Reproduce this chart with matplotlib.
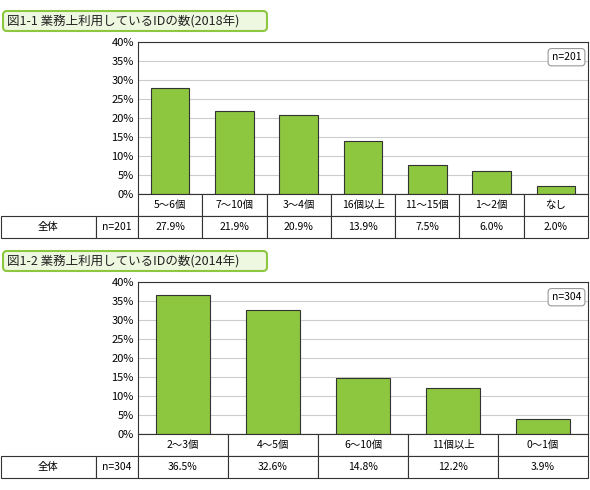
import matplotlib.pyplot as plt
from matplotlib.patches import FancyBboxPatch, Rectangle

plt.rcParams['font.family'] = ['Noto Sans CJK JP', 'DejaVu Sans']

titles = ['図1-1 業務上利用しているIDの数(2018年)', '図1-2 業務上利用しているIDの数(2014年)']
n_labels = ['n=201', 'n=304']
cats_2018 = ['5～6個', '7～10個', '3～4個', '16個以上', '11～15個', '1～2個', 'なし']
vals_2018 = [27.9, 21.9, 20.9, 13.9, 7.5, 6.0, 2.0]
cats_2014 = ['2～3個', '4～5個', '6～10個', '11個以上', '0～1個']
vals_2014 = [36.5, 32.6, 14.8, 12.2, 3.9]
yticks = [0, 5, 10, 15, 20, 25, 30, 35, 40]

W, H = 590, 490
fig = plt.figure(figsize=(W / 100, H / 100), dpi=100)
bg = fig.add_axes([0, 0, 1, 1])
bg.set_xlim(0, W)
bg.set_ylim(H, 0)
bg.axis('off')

green = '#8dc63f'
edge = '#333333'


def pax(x0, y0, x1, y1):
    return fig.add_axes([x0 / W, 1 - y1 / H, (x1 - x0) / W, (y1 - y0) / H])


def panel(top, title, nlab, cats, vals):
    # title box
    bg.add_patch(FancyBboxPatch((3, top + 1), 264, 20, boxstyle='round,pad=0,rounding_size=4',
                                fc='#eef7e0', ec='#8dc63f', lw=1.5))
    bg.text(7, top + 11.5, title, fontsize=9, va='center', ha='left', color='#222222')
    py0 = top + 32
    py1 = py0 + 152
    ax = pax(138, py0, 588, py1)
    n = len(cats)
    ax.bar(range(n), vals, width=0.6, color=green, edgecolor=edge, lw=0.8, zorder=3)
    ax.set_xlim(-0.5, n - 0.5)
    ax.set_ylim(0, 40)
    ax.set_yticks(yticks)
    ax.set_yticklabels([f'{t}%' for t in yticks], fontsize=8)
    ax.set_xticks([])
    ax.grid(axis='y', color='#cccccc', lw=0.8, zorder=0)
    ax.tick_params(axis='y', length=0, pad=3)
    for s in ax.spines.values():
        s.set_color(edge)
        s.set_linewidth(0.8)
    ax.text(0.985, 0.9, nlab, transform=ax.transAxes, ha='right', va='center', fontsize=7.5,
            bbox=dict(boxstyle='round,pad=0.35', fc='white', ec='#999999', lw=0.8))
    # table below with same x scale
    tb = pax(138, py1, 588, py1 + 44)
    tb.set_xlim(-0.5, n - 0.5)
    tb.set_ylim(2, 0)
    tb.axis('off')
    for i, (c, v) in enumerate(zip(cats, vals)):
        tb.add_patch(Rectangle((i - 0.5, 0), 1, 1, fc='white', ec=edge, lw=0.8, clip_on=False))
        tb.add_patch(Rectangle((i - 0.5, 1), 1, 1, fc='white', ec=edge, lw=0.8, clip_on=False))
        tb.text(i, 0.5, c, ha='center', va='center', fontsize=7.5)
        tb.text(i, 1.5, f'{v:.1f}%', ha='center', va='center', fontsize=7.5)
    ry = py1 + 22
    bg.add_patch(Rectangle((0.5, ry), 95, 22, fc='white', ec=edge, lw=0.8))
    bg.add_patch(Rectangle((95.5, ry), 42.5, 22, fc='white', ec=edge, lw=0.8))
    bg.text(48, ry + 11, '全体', ha='center', va='center', fontsize=7.5)
    bg.text(117, ry + 11, nlab, ha='center', va='center', fontsize=7.5)


panel(10, titles[0], n_labels[0], cats_2018, vals_2018)
panel(250, titles[1], n_labels[1], cats_2014, vals_2014)

fig.savefig('out.png', dpi=100)
